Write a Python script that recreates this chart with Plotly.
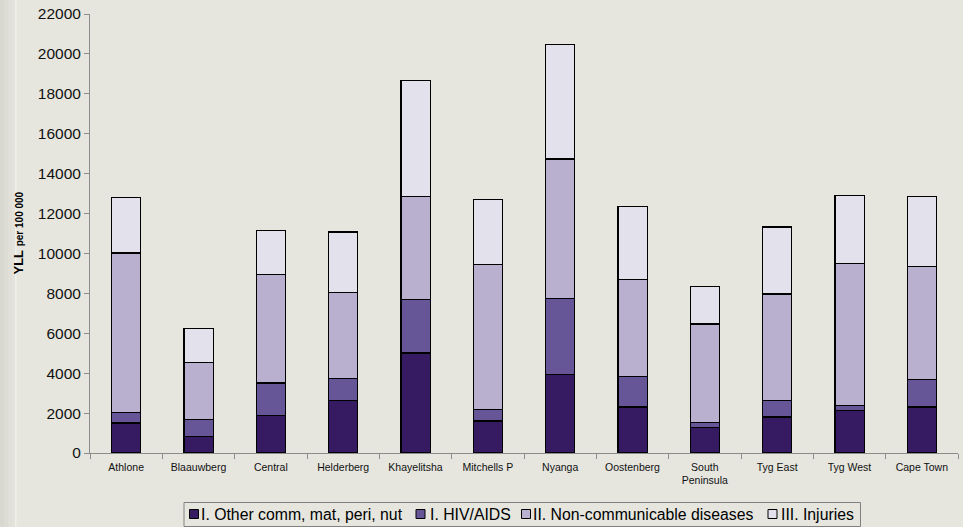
import plotly.graph_objects as go

# Sub-districts of Cape Town
districts = ["Athlone", "Blaauwberg", "Central", "Helderberg", "Khayelitsha",
             "Mitchells P", "Nyanga", "Oostenberg", "South<br>Peninsula",
             "Tyg East", "Tyg West", "Cape Town"]

# Years of life lost per 100 000, by cause group
other_comm = [1500, 820, 1870, 2640, 5010, 1600, 3950, 2310, 1270, 1810, 2130, 2310]
hiv_aids = [540, 850, 1640, 1110, 2680, 580, 3810, 1540, 270, 830, 260, 1390]
non_comm = [7990, 2880, 5450, 4290, 5180, 7250, 6970, 4850, 4930, 5330, 7090, 5660]
injuries = [2790, 1690, 2190, 3040, 5810, 3290, 5730, 3640, 1890, 3360, 3410, 3480]

series_names = ["I. Other comm, mat, peri, nut", "I. HIV/AIDS",
                "II. Non-communicable diseases", "III. Injuries"]
series_values = [other_comm, hiv_aids, non_comm, injuries]
series_colors = ["#361b62", "#665597", "#b9b0cf", "#e3e1ec"]

bg = "#e6e6df"
axis_grey = "#8c8c8c"
font_main = "Arial, Liberation Sans, sans-serif"

W, H = 963, 527
ML, MR, MT, MB = 90, 5, 14, 74
PW, PH = W - ML - MR, H - MT - MB


def px_x(px):
    return (px - ML) / PW


def px_y(py):
    return (H - MB - py) / PH


fig = go.Figure()
for name, vals, col in zip(series_names, series_values, series_colors):
    fig.add_trace(go.Bar(
        x=districts, y=vals, name=name, showlegend=False,
        marker=dict(color=col, line=dict(color="#000000", width=1.3)),
        width=0.405,
    ))

fig.update_layout(
    barmode="stack",
    width=W, height=H,
    paper_bgcolor=bg, plot_bgcolor=bg,
    margin=dict(l=ML, r=MR, t=MT, b=MB, autoexpand=False),
    font=dict(family=font_main, color="#000000"),
    showlegend=False,
    yaxis=dict(
        range=[0, 22000], dtick=2000, tickformat="d",
        showgrid=False, zeroline=False, automargin=False,
        showline=True, linecolor=axis_grey, linewidth=1,
        ticks="outside", ticklen=5, tickcolor=axis_grey,
        tickfont=dict(size=15.5, family=font_main, color="#111111"),
    ),
    xaxis=dict(
        showgrid=False, showline=True, linecolor=axis_grey, linewidth=1,
        automargin=False, tickangle=0,
        ticks="outside", ticklen=5, tickcolor=axis_grey,
        tickson="boundaries", ticklabelstandoff=4,
        tickfont=dict(size=10.5, family=font_main, color="#111111"),
    ),
)

# Y-axis title, with the unit in a smaller face
fig.add_annotation(
    text="<b>YLL</b> <b><span style='font-size:10px'>per 100 000</span></b>",
    xref="paper", yref="paper", x=px_x(18), y=0.5,
    xanchor="center", yanchor="middle", textangle=-90,
    showarrow=False, font=dict(size=13, family=font_main, color="#000000"),
)

# Shaded strip along the left edge of the page
strip = [("#d8d8d1", 0, 4), ("#dcdcd5", 4, 8), ("#e0e0d9", 8, 12), ("#e3e3dc", 12, 15), ("#f0f0ea", 15, 16.5)]
for col, x0, x1 in strip:
    fig.add_shape(type="rect", xref="paper", yref="paper",
                  x0=px_x(x0), x1=px_x(x1), y0=px_y(H + 2), y1=px_y(-2),
                  fillcolor=col, line=dict(width=0), layer="below")

# Legend box below the plot: framed row of swatches and labels
fig.add_shape(type="rect", xref="paper", yref="paper",
              x0=px_x(184), x1=px_x(860.5), y0=px_y(526.5), y1=px_y(502.5),
              fillcolor=bg, line=dict(color="#808080", width=1))
swatch_left = [189.5, 416, 521.5, 768]
text_left = [201, 429.5, 533, 780.5]
legend_mid = 514
for name, col, sx, tx in zip(series_names, series_colors, swatch_left, text_left):
    fig.add_shape(type="rect", xref="paper", yref="paper",
                  x0=px_x(sx), x1=px_x(sx + 9),
                  y0=px_y(legend_mid + 4.5), y1=px_y(legend_mid - 4.5),
                  fillcolor=col, line=dict(color="#000000", width=1))
    fig.add_annotation(
        text=name, xref="paper", yref="paper", x=px_x(tx), y=px_y(legend_mid),
        xanchor="left", yanchor="middle", showarrow=False,
        borderpad=0, borderwidth=0,
        font=dict(size=15.8, family=font_main, color="#000000"),
    )

fig.write_html("out.html")
